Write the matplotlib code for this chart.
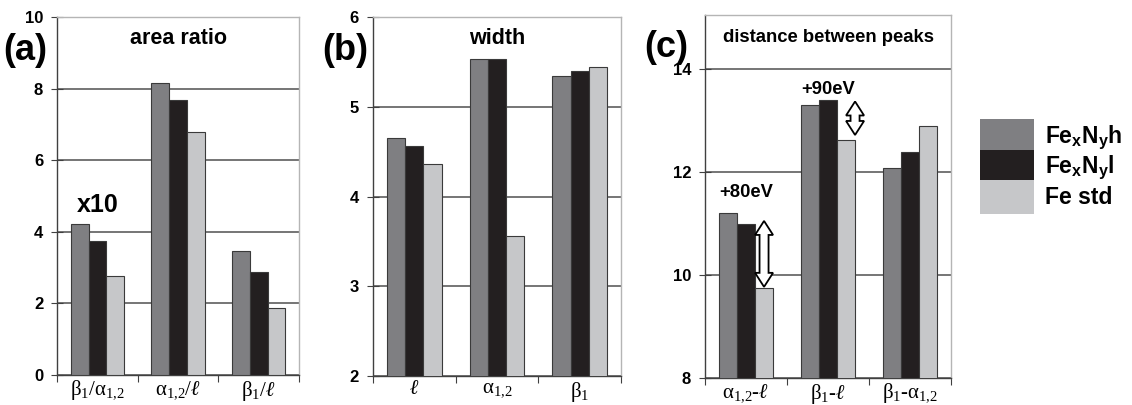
import numpy as np
import matplotlib
matplotlib.use("Agg")
import matplotlib.pyplot as plt
from matplotlib.patches import Patch, Polygon
from matplotlib.transforms import IdentityTransform

# data
series = ["Fe$_x$N$_y$h", "Fe$_x$N$_y$l", "Fe std"]
colors = ["#7f7f82", "#231f20", "#c6c7c9"]

area_cats = [r"β$_1$/α$_{1{,}2}$", r"α$_{1{,}2}$/$\mathit{ℓ}$", r"β$_1$/$\mathit{ℓ}$"]
area_h = [4.23, 8.16, 3.46]
area_l = [3.74, 7.69, 2.87]
area_std = [2.76, 6.79, 1.86]

width_cats = [r"$\mathit{ℓ}$", r"α$_{1{,}2}$", r"β$_1$"]
width_h = [4.65, 5.53, 5.34]
width_l = [4.56, 5.53, 5.40]
width_std = [4.36, 3.56, 5.44]

dist_cats = [r"α$_{1{,}2}$-$\mathit{ℓ}$", r"β$_1$-$\mathit{ℓ}$", r"β$_1$-α$_{1{,}2}$"]
dist_h = [11.21, 13.30, 12.08]
dist_l = [10.99, 13.39, 12.39]
dist_std = [9.75, 12.62, 12.89]

# shifts marked with arrows in (c): (group, low, high, label, label height)
shifts = [(0, 9.77, 11.05, "+80eV", 11.6), (1, 12.72, 13.37, "+90eV", 13.6)]

plt.rcParams["font.family"] = ["Liberation Sans", "DejaVu Sans"]
plt.rcParams["font.weight"] = "bold"
plt.rcParams["mathtext.default"] = "regular"
plt.rcParams["mathtext.fontset"] = "custom"
plt.rcParams["mathtext.it"] = "Liberation Serif:italic"
plt.rcParams["mathtext.rm"] = "Liberation Serif"

fig = plt.figure(figsize=(11.32, 4.05), dpi=100)
ax_a = fig.add_axes([0.0504, 0.0741, 0.2137, 0.8839])
ax_b = fig.add_axes([0.3295, 0.0716, 0.2191, 0.8864])
ax_c = fig.add_axes([0.6228, 0.0667, 0.2173, 0.8963])

bw = 0.22


def bar_panel(ax, cats, vals, ylim, yticks, title, title_y, title_size):
    x = np.arange(len(cats))
    for i, v in enumerate(vals):
        ax.bar(x + (i - 1) * bw, v, bw, color=colors[i], edgecolor="#3a3a3a",
               linewidth=0.8, zorder=3)
    ax.set_xlim(-0.5, len(cats) - 0.5)
    ax.set_ylim(*ylim)
    ax.set_yticks(yticks)
    ax.set_yticklabels([str(t) for t in yticks], fontsize=12, fontweight="bold")
    ax.set_xticks(np.arange(len(cats) + 1) - 0.5)
    ax.set_xticklabels([])
    ax.set_xticks(x, minor=True)
    ax.set_xticklabels(cats, minor=True, fontsize=15, fontweight="normal",
                       family=["Liberation Serif", "DejaVu Serif"])
    ax.tick_params(axis="x", which="minor", length=0, pad=3)
    ax.tick_params(axis="x", which="major", direction="out", length=5,
                   color="#404040")
    ax.tick_params(axis="y", direction="inout", length=8, color="#404040", pad=6)
    ax.grid(axis="y", color="#505050", linewidth=1.1, zorder=0)
    ax.set_axisbelow(True)
    for s in ["left", "bottom"]:
        ax.spines[s].set_color("#404040")
        ax.spines[s].set_linewidth(1.0)
    for s in ["top", "right"]:
        ax.spines[s].set_color("#b5b5b5")
        ax.spines[s].set_linewidth(1.0)
    ax.text(0.5, title_y, title, transform=ax.transAxes, ha="center",
            va="center", fontsize=title_size, fontweight="bold")


bar_panel(ax_a, area_cats, [area_h, area_l, area_std], (0, 10),
          [0, 2, 4, 6, 8, 10], "area ratio", 0.94, 15.5)
bar_panel(ax_b, width_cats, [width_h, width_l, width_std], (2, 6),
          [2, 3, 4, 5, 6], "width", 0.94, 15.5)
bar_panel(ax_c, dist_cats, [dist_h, dist_l, dist_std], (8, 15.05),
          [8, 10, 12, 14], "distance between peaks", 0.937, 13.3)

ax_a.text(0, 4.75, "x10", ha="center", va="center", fontsize=18,
          fontweight="bold")

fig.text(0.022, 0.875, "(a)", ha="center", va="center", fontsize=26,
         fontweight="bold")
fig.text(0.305, 0.875, "(b)", ha="center", va="center", fontsize=26,
         fontweight="bold")
fig.text(0.589, 0.883, "(c)", ha="center", va="center", fontsize=26,
         fontweight="bold")


def double_arrow(ax, x, y0, y1, hw=9, sw=4.5, hl=14):
    (cx, by), (_, ty) = ax.transData.transform([(x, y0), (x, y1)])
    pts = [(cx, ty), (cx + hw, ty - hl), (cx + sw, ty - hl), (cx + sw, by + hl),
           (cx + hw, by + hl), (cx, by), (cx - hw, by + hl), (cx - sw, by + hl),
           (cx - sw, ty - hl), (cx - hw, ty - hl)]
    poly = Polygon(pts, closed=True, facecolor="white", edgecolor="black",
                   linewidth=1.3, transform=IdentityTransform(), zorder=5)
    ax.add_artist(poly)


for g, lo, hi, lab, ly in shifts:
    ax_c.text(g, ly, lab, ha="center", va="center", fontsize=13.2,
              fontweight="bold")
xs = [0 + bw, 1 + 1.5 * bw]
for (g, lo, hi, lab, ly), xa in zip(shifts, xs):
    double_arrow(ax_c, xa, lo, hi)

handles = [Patch(facecolor=c, edgecolor="none") for c in colors]
fig.legend(handles, series, loc="upper left", bbox_to_anchor=(0.856, 0.735),
           frameon=False, handlelength=2.35, handleheight=1.87,
           labelspacing=-0.12, handletextpad=0.45, borderpad=0,
           prop={"weight": "bold", "size": 16.5})

fig.savefig("out.png", dpi=100)
